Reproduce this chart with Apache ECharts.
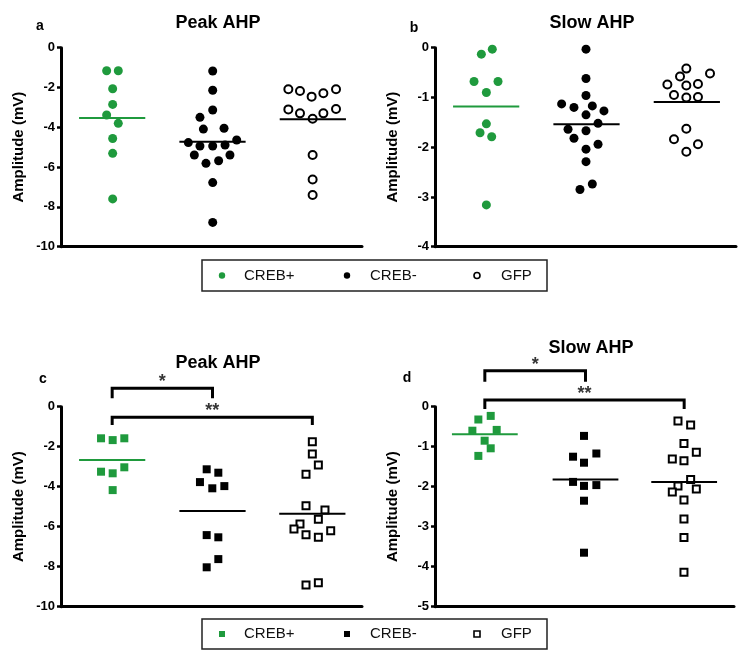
<!DOCTYPE html>
<html><head><meta charset="utf-8">
<script src="https://cdn.jsdelivr.net/npm/echarts@6/dist/echarts.min.js"></script>
<style>html,body{margin:0;padding:0;background:#fff}#c{width:748px;height:662px}</style>
</head><body><div id="c"></div>
<script>
// ---------- data (x = position across the 3 groups, y = amplitude mV) ----------
const groupNames = ['CREB+', 'CREB-', 'GFP'];
const panelTitles = ['Peak AHP', 'Slow AHP', 'Peak AHP', 'Slow AHP'];
const panelLetters = ['a', 'b', 'c', 'd'];
const yMins = [-10, -4, -10, -5];
const yIntervals = [2, 1, 2, 1];

// Panel a – Peak AHP (circles)
const aCrebPos = [[0.455,-1.16],[0.571,-1.16],[0.515,-2.06],[0.515,-2.85],[0.455,-3.38],[0.571,-3.80],[0.515,-4.56],[0.515,-5.31],[0.515,-7.6]];
const aCrebNeg = [[1.512,-1.17],[1.512,-2.14],[1.512,-3.13],[1.385,-3.50],[1.419,-4.09],[1.625,-4.05],[1.269,-4.77],[1.751,-4.64],[1.385,-4.94],[1.512,-4.94],[1.635,-4.89],[1.329,-5.39],[1.684,-5.39],[1.445,-5.81],[1.571,-5.68],[1.512,-6.78],[1.512,-8.78]];
const aGfp = [[2.266,-2.09],[2.382,-2.18],[2.498,-2.46],[2.615,-2.29],[2.741,-2.09],[2.266,-3.10],[2.382,-3.30],[2.508,-3.57],[2.615,-3.30],[2.741,-3.08],[2.508,-5.39],[2.508,-6.62],[2.508,-7.40]];
const aMeans = [-3.53, -4.72, -3.60];

// Panel b – Slow AHP (circles)
const bCrebPos = [[0.462,-0.13],[0.571,-0.03],[0.389,-0.68],[0.628,-0.68],[0.512,-0.90],[0.512,-1.53],[0.449,-1.71],[0.565,-1.79],[0.512,-3.16]];
const bCrebNeg = [[1.505,-0.03],[1.505,-0.62],[1.505,-0.96],[1.262,-1.13],[1.385,-1.20],[1.568,-1.17],[1.684,-1.27],[1.505,-1.35],[1.625,-1.52],[1.326,-1.64],[1.505,-1.67],[1.385,-1.82],[1.625,-1.94],[1.505,-2.04],[1.505,-2.29],[1.568,-2.74],[1.445,-2.85]];
const bGfp = [[2.505,-0.42],[2.741,-0.52],[2.442,-0.58],[2.316,-0.74],[2.505,-0.76],[2.621,-0.73],[2.382,-0.95],[2.505,-1.00],[2.621,-0.99],[2.505,-1.63],[2.382,-1.84],[2.621,-1.94],[2.505,-2.09]];
const bMeans = [-1.18, -1.54, -1.09];

// Panel c – Peak AHP (squares)
const cCrebPos = [[0.399,-1.58],[0.515,-1.67],[0.631,-1.58],[0.399,-3.25],[0.515,-3.33],[0.631,-3.03],[0.515,-4.17]];
const cCrebNeg = [[1.452,-3.13],[1.568,-3.30],[1.385,-3.77],[1.508,-4.08],[1.628,-3.97],[1.452,-6.42],[1.568,-6.53],[1.568,-7.62],[1.452,-8.03]];
const cGfp = [[2.505,-1.75],[2.505,-2.37],[2.565,-2.92],[2.442,-3.38],[2.442,-4.95],[2.631,-5.17],[2.565,-5.63],[2.382,-5.87],[2.322,-6.12],[2.688,-6.20],[2.442,-6.40],[2.565,-6.53],[2.442,-8.92],[2.565,-8.80]];
const cMeans = [-2.67, -5.22, -5.35];

// Panel d – Slow AHP (squares)
const dCrebPos = [[0.435,-0.32],[0.559,-0.23],[0.375,-0.60],[0.619,-0.58],[0.498,-0.85],[0.559,-1.04],[0.435,-1.23]];
const dCrebNeg = [[1.495,-0.73],[1.385,-1.25],[1.619,-1.17],[1.495,-1.40],[1.385,-1.88],[1.495,-1.98],[1.619,-1.96],[1.495,-2.35],[1.495,-3.65]];
const dGfp = [[2.438,-0.36],[2.565,-0.46],[2.498,-0.92],[2.622,-1.14],[2.381,-1.31],[2.498,-1.35],[2.565,-1.82],[2.438,-1.98],[2.622,-2.06],[2.381,-2.13],[2.498,-2.33],[2.498,-2.81],[2.498,-3.27],[2.498,-4.14]];
const dMeans = [-0.69, -1.82, -1.88];

const groupCenters = [[0.51,1.51,2.51],[0.51,1.51,2.51],[0.51,1.51,2.505],[0.50,1.51,2.50]];

// significance brackets: [fromX, toX, topY, legY, label]
const cBrackets = [[0.51,1.51,0.92,0.42,'*'],[0.51,2.505,-0.53,-0.92,'**']];
const dBrackets = [[0.50,1.51,0.90,0.625,'*'],[0.50,2.50,0.167,-0.06,'**']];

// ---------- chart ----------
const GREEN = '#1f9a3d';
const FONT = '"Liberation Sans", Arial, sans-serif';
const panels = [
  {data:[aCrebPos,aCrebNeg,aGfp], means:aMeans, shape:'circle', brackets:[]},
  {data:[bCrebPos,bCrebNeg,bGfp], means:bMeans, shape:'circle', brackets:[]},
  {data:[cCrebPos,cCrebNeg,cGfp], means:cMeans, shape:'rect', brackets:cBrackets},
  {data:[dCrebPos,dCrebNeg,dGfp], means:dMeans, shape:'rect', brackets:dBrackets}
];
const grids = [
  {left:61, top:47.7, width:301, height:199},
  {left:435, top:47.7, width:301, height:199},
  {left:61, top:406.7, width:301, height:200},
  {left:435, top:406.7, width:299, height:200}
];
const titlePos = [[213,9],[587,9],[213,349],[586,334]];
const letterPos = [[35,14],[409,16],[38,367],[402,366]];

const xAxes = [], yAxes = [], series = [], titles = [];
panels.forEach((p, i) => {
  xAxes.push({type:'value', gridIndex:i, min:0, max:3, axisLine:{show:true, onZero:false, lineStyle:{color:'#000', width:3}},
    axisTick:{show:false}, axisLabel:{show:false}, splitLine:{show:false}});
  yAxes.push({type:'value', gridIndex:i, min:yMins[i], max:0, interval:yIntervals[i],
    name:'Amplitude (mV)', nameLocation:'middle', nameGap:35,
    nameTextStyle:{fontFamily:FONT, fontWeight:'bold', fontSize:15, color:'#000'},
    axisLine:{show:true, onZero:false, lineStyle:{color:'#000', width:3}},
    axisTick:{show:true, length:4, lineStyle:{color:'#000', width:2.5}},
    axisLabel:{fontFamily:FONT, fontWeight:'bold', fontSize:13, color:'#000', margin:6},
    splitLine:{show:false}});
  titles.push({text:panelTitles[i], left:titlePos[i][0], top:titlePos[i][1], textAlign:'center',
    textStyle:{fontFamily:FONT, fontWeight:'bold', fontSize:18, color:'#000'}});
  titles.push({text:panelLetters[i], left:letterPos[i][0], top:letterPos[i][1], textAlign:'center',
    textStyle:{fontFamily:FONT, fontWeight:'bold', fontSize:14, color:'#000'}});
  const styles = [
    {color:GREEN, opacity:1},
    {color:'#000', opacity:1},
    {color:'#fff', borderColor:'#000', borderWidth:2, opacity:1}
  ];
  const sizes = p.shape === 'circle' ? [9,9,8] : [8,8,7];
  p.data.forEach((d, g) => {
    series.push({type:'scatter', name:groupNames[g], xAxisIndex:i, yAxisIndex:i, symbol:p.shape,
      symbolSize:sizes[g], itemStyle:styles[g], data:d, z:2});
  });
  p.means.forEach((m, g) => {
    const c = groupCenters[i][g];
    series.push({type:'line', xAxisIndex:i, yAxisIndex:i, showSymbol:false, symbol:'none', silent:true,
      lineStyle:{color: g===0 ? GREEN : '#000', width:2}, data:[[c-0.33,m],[c+0.33,m]], z:3});
  });
  p.brackets.forEach(b => {
    series.push({type:'line', xAxisIndex:i, yAxisIndex:i, symbol:'none', clip:false, silent:true,
      lineStyle:{color:'#000', width:3, join:'miter'}, data:[[b[0],b[3]],[b[0],b[2]],[b[1],b[2]],[b[1],b[3]]], z:4});
    series.push({type:'scatter', xAxisIndex:i, yAxisIndex:i, symbolSize:0, clip:false, silent:true,
      data:[[(b[0]+b[1])/2, b[2], b[4]]],
      label:{show:true, position:'top', distance:-3, formatter:q => q.data[2],
        fontFamily:FONT, fontWeight:'bold', fontSize:18, color:'#000'}, z:4});
  });
});

function legendGroup(y, h, shape) {
  const cy = y + h/2;
  const kids = [{type:'rect', shape:{x:202, y:y, width:345, height:h}, style:{fill:'#fff', stroke:'#222', lineWidth:1.5}}];
  const xs = [222, 347, 477], tx = [244, 370, 501];
  const fills = [GREEN, '#000', '#fff'];
  xs.forEach((x, k) => {
    if (shape === 'circle') {
      kids.push({type:'circle', shape:{cx:x, cy:cy, r: k===2 ? 3 : 3.2},
        style:{fill:fills[k], stroke: k===2 ? '#000' : null, lineWidth: k===2 ? 1.6 : 0}});
    } else {
      kids.push({type:'rect', shape:{x:x-3, y:cy-3, width:6, height:6},
        style:{fill:fills[k], stroke: k===2 ? '#000' : null, lineWidth: k===2 ? 1.6 : 0}});
    }
    kids.push({type:'text', x:tx[k], y:cy, style:{text:groupNames[k], fill:'#111', font:'15px ' + FONT, verticalAlign:'middle'}});
  });
  return {type:'group', children:kids};
}

const chart = echarts.init(document.getElementById('c'), null, {renderer:'canvas'});
chart.setOption({
  animation:false,
  backgroundColor:'#fff',
  title:titles,
  grid:grids,
  xAxis:xAxes,
  yAxis:yAxes,
  series:series,
  graphic:[legendGroup(260, 31, 'circle'), legendGroup(619, 30, 'rect')]
});
</script></body></html>
